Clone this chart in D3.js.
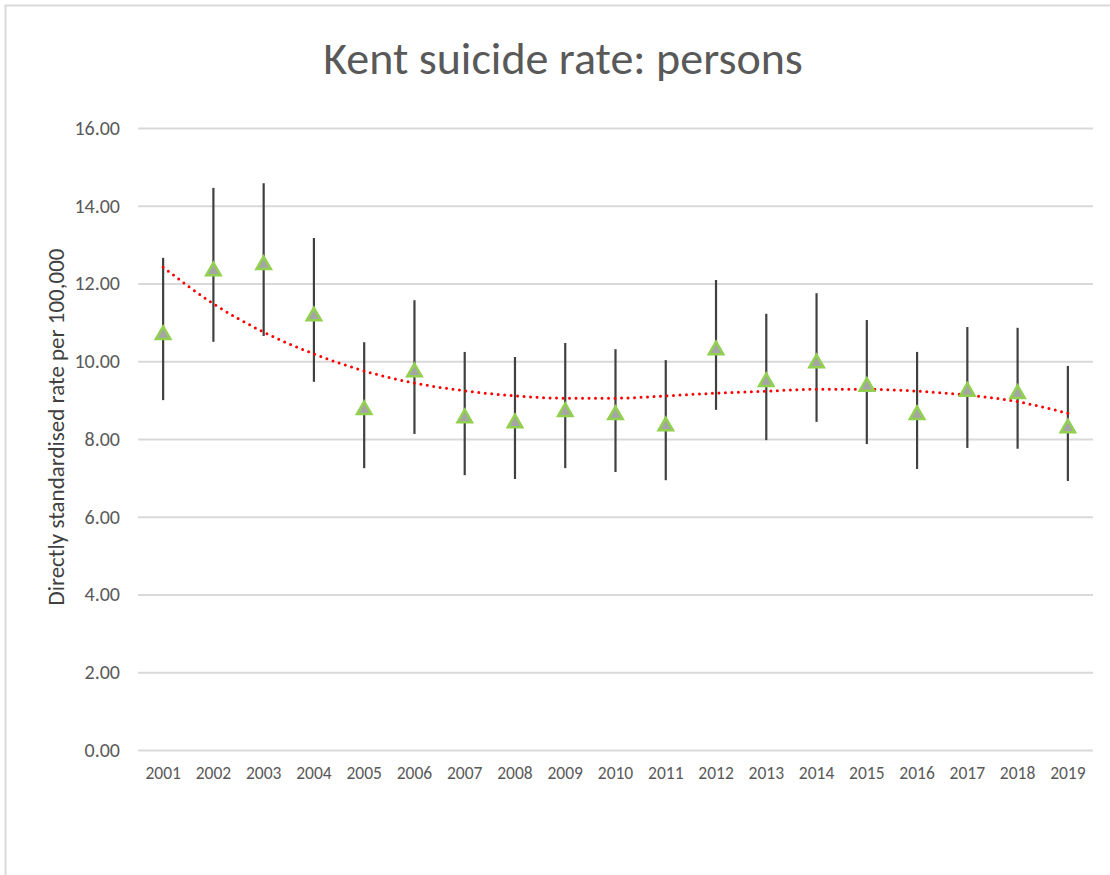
<!DOCTYPE html>
<html>
<head>
<meta charset="utf-8">
<script src="https://cdn.jsdelivr.net/npm/d3@7"></script>
<style>
  html, body { margin: 0; padding: 0; background: #fff; }
  svg { display: block; }
</style>
</head>
<body>
<svg id="chart" width="1110" height="875"></svg>
<script>
// Kent suicide rate (persons): directly standardised rate per 100,000 with 95% CIs
const years = ["2001","2002","2003","2004","2005","2006","2007","2008","2009","2010",
               "2011","2012","2013","2014","2015","2016","2017","2018","2019"];
const rates = [10.68, 12.32, 12.48, 11.16, 8.75, 9.72, 8.54, 8.41, 8.70, 8.62,
               8.33, 10.29, 9.47, 9.95, 9.35, 8.62, 9.22, 9.16, 8.28];
const lowerCI = [9.00, 10.50, 10.65, 9.47, 7.25, 8.13, 7.07, 6.97, 7.25, 7.15,
                 6.94, 8.75, 7.97, 8.44, 7.87, 7.23, 7.77, 7.75, 6.92];
const upperCI = [12.66, 14.46, 14.58, 13.17, 10.49, 11.57, 10.24, 10.11, 10.47, 10.31,
                 10.03, 12.09, 11.22, 11.75, 11.06, 10.24, 10.88, 10.86, 9.88];
// polynomial trendline values at each year
const trend = [12.42, 11.48, 10.75, 10.19, 9.75, 9.44, 9.24, 9.11, 9.05, 9.05,
               9.11, 9.18, 9.23, 9.28, 9.28, 9.23, 9.13, 8.96, 8.66];
const yTicks = [0, 2, 4, 6, 8, 10, 12, 14, 16];

const svg = d3.select("#chart");
const textColor = "#595959";
const font = "Carlito, 'Liberation Sans Narrow', 'Open Sans', sans-serif";

// outer frame
svg.append("path")
  .attr("d", "M5.5,875 L5.5,5.5 L1110,5.5")
  .attr("fill", "none")
  .attr("stroke", "#d9d9d9")
  .attr("stroke-width", 2);

const plot = { left: 138, right: 1093, top: 128, bottom: 750 };

const x = d3.scaleBand().domain(years).range([plot.left, plot.right]);
const y = d3.scaleLinear().domain([0, 16]).range([plot.bottom, plot.top]);
const cx = d => x(d) + x.bandwidth() / 2;

// title
svg.append("text")
  .attr("x", 563).attr("y", 74)
  .attr("text-anchor", "middle")
  .attr("font-family", font)
  .attr("font-weight", 300)
  .attr("font-size", 46)
  .attr("fill", textColor)
  .text("Kent suicide rate: persons");

// gridlines + y axis labels
const yAxis = d3.axisLeft(y).tickValues(yTicks).tickFormat(d3.format(".2f"))
  .tickSize(-(plot.right - plot.left)).tickPadding(18);
const gy = svg.append("g").attr("transform", `translate(${plot.left},0)`).call(yAxis);
gy.select(".domain").remove();
gy.selectAll(".tick line").attr("stroke", "#d9d9d9").attr("stroke-width", 2);
gy.selectAll(".tick text")
  .attr("font-family", font).attr("font-size", 20).attr("fill", textColor);

// x axis labels
const xAxis = d3.axisBottom(x).tickSize(0).tickPadding(17);
const gx = svg.append("g").attr("transform", `translate(0,${plot.bottom})`).call(xAxis);
gx.select(".domain").remove();
gx.selectAll(".tick text")
  .attr("font-family", font).attr("font-size", 17.5).attr("fill", textColor);

// y axis title
svg.append("text")
  .attr("transform", `translate(64,${(plot.top + plot.bottom) / 2 - 12}) rotate(-90)`)
  .attr("text-anchor", "middle")
  .attr("font-family", font)
  .attr("font-size", 23)
  .attr("fill", "#404040")
  .text("Directly standardised rate per 100,000");

const data = years.map((yr, i) => ({ yr, v: rates[i], lo: lowerCI[i], hi: upperCI[i], t: trend[i] }));

// confidence interval bars
svg.append("g").selectAll("line").data(data).join("line")
  .attr("x1", d => cx(d.yr)).attr("x2", d => cx(d.yr))
  .attr("y1", d => y(d.lo)).attr("y2", d => y(d.hi))
  .attr("stroke", "#404040").attr("stroke-width", 2.2);

// trendline
svg.append("path")
  .datum(data)
  .attr("d", d3.line().x(d => cx(d.yr)).y(d => y(d.t)).curve(d3.curveMonotoneX))
  .attr("fill", "none")
  .attr("stroke", "#ff0000")
  .attr("stroke-width", 3)
  .attr("stroke-linecap", "round")
  .attr("stroke-dasharray", "0,6.5");

// triangle markers
const tri = d3.symbol().type(d3.symbolTriangle).size(90);
svg.append("g").selectAll("path").data(data).join("path")
  .attr("d", tri)
  .attr("transform", d => `translate(${cx(d.yr)},${y(d.v)})`)
  .attr("fill", "#a5a5a5")
  .attr("stroke", "#92d050")
  .attr("stroke-width", 2.5)
  .attr("stroke-linejoin", "miter");
</script>
</body>
</html>
